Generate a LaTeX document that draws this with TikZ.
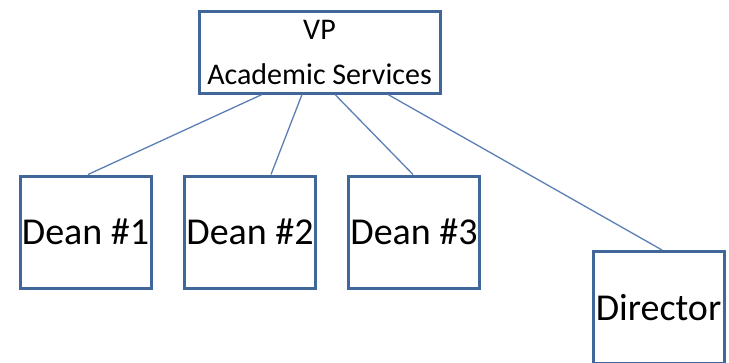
\documentclass[tikz,border=0pt]{standalone}
\usepackage{fontspec}
\setmainfont{Carlito}

\definecolor{boxblue}{HTML}{41679A}
\definecolor{lineblue}{HTML}{5B7FB5}

\tikzset{
  orgbox/.style={draw=boxblue, line width=3pt, fill=white, inner sep=0pt,
    minimum width=131pt, minimum height=112pt, font=\fontsize{38}{40}\selectfont},
  orgline/.style={draw=lineblue, line width=1.3pt}
}

\begin{document}
\begin{tikzpicture}[x=1pt, y=-1pt]
  \useasboundingbox (0,0) rectangle (729,362);
  \clip (0,0) rectangle (729,362);

  \node[orgbox, minimum width=241pt, minimum height=82pt, align=center,
    font=\fontsize{30}{46}\selectfont] (vp) at (319.5,52) {VP\\[-1pt]Academic Services};

  \node[orgbox] (dean1) at (85.5,232) {Dean \#1};
  \node[orgbox] (dean2) at (250,232) {Dean \#2};
  \node[orgbox] (dean3) at (414,232) {Dean \#3};
  \node[orgbox] (director) at (658.5,307.5) {Director};

  % reporting lines
  \draw[orgline] ([xshift=-57.5pt]vp.south) -- ([xshift=2.5pt]dean1.north);
  \draw[orgline] ([xshift=-17.5pt]vp.south) -- ([xshift=21pt]dean2.north);
  \draw[orgline] ([xshift=15.5pt]vp.south) -- ([xshift=-1pt]dean3.north);
  \draw[orgline] ([xshift=68.5pt]vp.south) -- ([xshift=3.5pt]director.north);
\end{tikzpicture}
\end{document}
